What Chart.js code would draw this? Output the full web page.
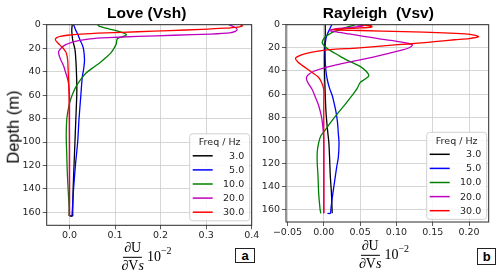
<!DOCTYPE html>
<html><head><meta charset="utf-8">
<script src="https://cdn.jsdelivr.net/npm/chart.js@4.4.1/dist/chart.umd.min.js"></script>
<style>
html,body{margin:0;padding:0;background:#fff;}
#wrap{position:relative;width:500px;height:276px;overflow:hidden;font-family:"Liberation Sans",Arial,sans-serif;}
canvas{position:absolute;top:0;}
#c1{left:0;} #c2{left:240px;}
.abs{position:absolute;white-space:pre;color:#000;line-height:1;transform:translate(-50%,-50%);}
.title{font-weight:bold;font-size:15.5px;}
.ylab{font-size:16.5px;transform:translate(-50%,-50%) rotate(-90deg);}
.xl{display:flex;align-items:center;font-family:"Liberation Serif","DejaVu Serif",serif;font-size:14px;}
.frac{display:inline-flex;flex-direction:column;align-items:center;margin-right:3px;}
.num{border-bottom:1px solid #000;padding:0 1px 1px 1px;line-height:1.05;}
.den{line-height:1.05;padding-top:1px;}
.pw{line-height:1;}
.pw sup{font-size:10px;vertical-align:7px;line-height:0;}
.box{position:absolute;border:1.5px solid #222;font-weight:bold;font-size:13px;display:flex;align-items:center;justify-content:center;box-sizing:border-box;background:#fff;}
</style></head>
<body><div id="wrap">
<canvas id="c1" width="270" height="276"></canvas>
<canvas id="c2" width="260" height="276"></canvas>
<div class="abs title" style="left:146.7px;top:12.7px;">Love (Vsh)</div>
<div class="abs title" style="left:378.3px;top:12.7px;">Rayleigh  (Vsv)</div>
<div class="abs ylab" style="left:12.5px;top:126.7px;">Depth (m)</div>
<div class="abs xl" style="left:146.5px;top:257px;"><span class="frac"><span class="num">∂U</span><span class="den">∂V<i>s</i></span></span><span class="pw">10<sup>−2</sup></span></div>
<div class="abs xl" style="left:384px;top:255px;"><span class="frac"><span class="num">∂U</span><span class="den">∂V<i>s</i></span></span><span class="pw">10<sup>−2</sup></span></div>
<div class="box" style="left:235px;top:247.7px;width:20px;height:15.5px;">a</div>
<div class="box" style="left:477.3px;top:248.3px;width:19px;height:16.7px;">b</div>
</div>
<script>
// ---------- data ----------
const freqLabels = ['3.0', '5.0', '10.0', '20.0', '30.0'];
const freqColors = ['#000000', '#0000ff', '#008000', '#bf00bf', '#ff0000'];

const depthTicks = [0, 20, 40, 60, 80, 100, 120, 140, 160];
const loveXTicks = [0.0, 0.1, 0.2, 0.3, 0.4];
const loveXLabels = ['0.0', '0.1', '0.2', '0.3', '0.4'];
const rayXTicks = [-0.05, 0.0, 0.05, 0.10, 0.15, 0.20];
const rayXLabels = ['\u22120.05', '0.00', '0.05', '0.10', '0.15', '0.20'];

// Love (Vsh)
const love3Depth = [0, 5, 13, 21, 30, 38, 50, 60, 80, 100, 120, 140, 160, 163, 163];
const love3Val   = [0.006, 0.005, 0.007, 0.012, 0.014, 0.015, 0.016, 0.016, 0.014, 0.012, 0.010, 0.008, 0.007, 0.007, 0.0];
const love5Depth = [0, 4, 8, 13, 17, 21, 30, 38, 45, 60, 80, 100, 120, 140, 160, 163, 163];
const love5Val   = [0.009, 0.013, 0.018, 0.023, 0.028, 0.031, 0.033, 0.031, 0.028, 0.025, 0.021, 0.018, 0.013, 0.009, 0.006, 0.005, 0.002];
const love10Depth = [0, 1.5, 3, 4.5, 6, 7.5, 8.5, 10, 11.5, 13, 16, 20, 24, 28, 32, 36, 41, 47, 53, 60, 67, 75, 81, 90, 98, 110, 124, 140, 155, 163];
const love10Val   = [0.062, 0.066, 0.08, 0.096, 0.11, 0.121, 0.125, 0.118, 0.107, 0.104, 0.103, 0.098, 0.091, 0.08, 0.068, 0.054, 0.037, 0.024, 0.014, 0.006, 0.0, -0.004, -0.006, -0.007, -0.007, -0.006, -0.005, -0.003, -0.001, -0.001];
const love20Depth = [0, 2, 4, 5.5, 7, 8, 9, 10, 11, 12, 13.5, 15, 17, 19, 23, 27, 31, 35, 40, 45, 50, 60, 100, 163];
const love20Val   = [0.35, 0.362, 0.368, 0.365, 0.352, 0.31, 0.23, 0.15, 0.085, 0.045, 0.02, 0.005, -0.008, -0.016, -0.024, -0.022, -0.018, -0.013, -0.009, -0.005, -0.002, 0.0, 0.0, 0.0];
const love30Depth = [0, 1, 2, 3, 4, 5, 6, 7, 8, 9, 10, 11, 12.8, 15, 18.5, 21, 24, 30, 38, 60, 100, 163];
const love30Val   = [0.375, 0.38, 0.37, 0.34, 0.29, 0.22, 0.15, 0.08, 0.025, -0.005, -0.02, -0.028, -0.031, -0.027, -0.018, -0.012, -0.007, -0.004, -0.003, -0.001, 0.0, 0.0];

// Rayleigh (Vsv)
const ray3Depth = [0, 10, 20, 40, 60, 75, 90, 102, 115, 131, 145, 161, 163];
const ray3Val   = [0.002, 0.002, 0.001, 0.001, 0.002, 0.003, 0.005, 0.007, 0.008, 0.009, 0.0105, 0.0115, 0.0115];
const ray5Depth = [0, 4, 8, 12, 18, 30, 40, 48, 55, 62, 70, 76, 85, 94, 102, 115, 122, 135, 148, 158, 163, 163];
const ray5Val   = [0.011, 0.008, 0.005, 0.003, 0.002, 0.002, 0.003, 0.005, 0.008, 0.012, 0.015, 0.017, 0.019, 0.020, 0.021, 0.020, 0.018, 0.015, 0.012, 0.010, 0.009, 0.005];
const ray10Depth = [0, 2, 4, 6, 8, 10, 13, 16, 19, 22, 26, 30, 33, 36, 40, 44, 47, 50, 55, 62, 70, 76, 84, 91, 96, 102, 110, 120, 130, 146, 160, 163];
const ray10Val   = [0.044, 0.032, 0.024, 0.014, 0.008, 0.003, -0.001, -0.002, 0.002, 0.008, 0.019, 0.03, 0.04, 0.05, 0.058, 0.062, 0.057, 0.05, 0.046, 0.038, 0.028, 0.02, 0.01, 0.002, -0.004, -0.007, -0.009, -0.009, -0.008, -0.007, -0.005, -0.004];
const ray20Depth = [0, 1, 2, 3, 4, 5, 6, 8, 10, 12, 14, 16, 17.3, 19, 21, 23, 25.5, 28, 31, 34, 37, 40, 43, 46, 50, 56, 62, 70, 80, 90, 100, 163];
const ray20Val   = [0.045, 0.055, 0.045, 0.025, 0.012, 0.008, 0.015, 0.035, 0.055, 0.075, 0.097, 0.115, 0.122, 0.12, 0.113, 0.1, 0.085, 0.068, 0.045, 0.022, 0.002, -0.013, -0.021, -0.024, -0.022, -0.016, -0.012, -0.007, -0.003, -0.001, 0.0, 0.0];
const ray30Depth = [0, 1, 2, 3, 4.3, 5, 6, 7, 8, 9, 10.3, 12, 13, 14.4, 16, 17.3, 19, 20.2, 21.6, 23, 25, 27, 29, 32, 36, 40, 45, 50, 56, 70, 100, 163];
const ray30Val   = [0.05, 0.066, 0.066, 0.045, 0.013, 0.05, 0.11, 0.165, 0.195, 0.207, 0.213, 0.2, 0.18, 0.156, 0.13, 0.102, 0.07, 0.045, 0.008, -0.01, -0.025, -0.034, -0.039, -0.036, -0.028, -0.019, -0.008, -0.003, 0.0, 0.0, 0.0, 0.0];

// ---------- helpers ----------
function pts(depth, vals) { return depth.map((d, i) => ({ x: vals[i], y: d })); }
function mkDatasets(list) {
  return list.map((p, i) => ({
    label: freqLabels[i],
    data: pts(p[0], p[1]),
    borderColor: freqColors[i],
    backgroundColor: freqColors[i],
    borderWidth: 1.3,
    pointRadius: 0,
    showLine: true,
    tension: 0.25,
    fill: false,
    order: list.length - 1 - i
  }));
}

const framePlugin = {
  id: 'frameLegend',
  afterDraw(chart, args, opts) {
    const ctx = chart.ctx, a = chart.chartArea;
    ctx.save();
    ctx.strokeStyle = '#2a2a2a';
    ctx.lineWidth = 1;
    ctx.strokeRect(a.left, a.top, a.right - a.left, a.bottom - a.top);
    // legend
    const w = 60, h = 87;
    const x0 = a.right - opts.right - w, y0 = a.bottom - opts.bottom - h;
    const r = 3;
    ctx.beginPath();
    ctx.moveTo(x0 + r, y0);
    ctx.arcTo(x0 + w, y0, x0 + w, y0 + h, r);
    ctx.arcTo(x0 + w, y0 + h, x0, y0 + h, r);
    ctx.arcTo(x0, y0 + h, x0, y0, r);
    ctx.arcTo(x0, y0, x0 + w, y0, r);
    ctx.closePath();
    ctx.fillStyle = 'rgba(255,255,255,0.85)';
    ctx.fill();
    ctx.strokeStyle = '#d0d0d0';
    ctx.stroke();
    ctx.font = '9.5px "DejaVu Sans"';
    ctx.fillStyle = '#262626';
    ctx.textBaseline = 'middle';
    ctx.textAlign = 'center';
    ctx.fillText('Freq / Hz', x0 + w / 2, y0 + 9);
    ctx.textAlign = 'right';
    chart.data.datasets.forEach((ds, i) => {
      const yy = y0 + 22 + i * 14.1;
      ctx.strokeStyle = ds.borderColor;
      ctx.lineWidth = 1.5;
      ctx.beginPath();
      ctx.moveTo(x0 + 3, yy);
      ctx.lineTo(x0 + 23, yy);
      ctx.stroke();
      ctx.fillStyle = '#262626';
      ctx.fillText(ds.label, x0 + 54.5, yy + 0.5);
    });
    ctx.restore();
  }
};

function mkOptions(xmin, xmax, xTicks, xLabels, ymax, pad, leg) {
  const tickFont = { family: 'DejaVu Sans', size: 9.5 };
  return {
    responsive: false,
    animation: false,
    devicePixelRatio: 1,
    layout: { padding: pad },
    plugins: { legend: { display: false }, tooltip: { enabled: false }, frameLegend: leg },
    scales: {
      x: {
        type: 'linear', min: xmin, max: xmax,
        afterBuildTicks: s => { s.ticks = xTicks.map(v => ({ value: v })); },
        afterFit: s => { s.height = 20; },
        ticks: { font: tickFont, color: '#262626', padding: 1, autoSkip: false, maxRotation: 0,
                 callback: (v, i) => xLabels[i] },
        grid: { color: '#cccccc', lineWidth: 0.8, tickColor: '#333', tickLength: 4, drawTicks: true },
        border: { display: false }
      },
      y: {
        type: 'linear', min: 0, max: ymax, reverse: true,
        afterBuildTicks: s => { s.ticks = depthTicks.map(v => ({ value: v })); },
        afterFit: s => { s.width = 40; },
        ticks: { font: tickFont, color: '#262626', padding: 2, autoSkip: false,
                 callback: (v, i) => String(depthTicks[i]) },
        grid: { color: '#cccccc', lineWidth: 0.8, tickColor: '#333', tickLength: 4, drawTicks: true },
        border: { display: false }
      }
    }
  };
}

new Chart(document.getElementById('c1'), {
  type: 'scatter',
  data: { datasets: mkDatasets([[love3Depth, love3Val], [love5Depth, love5Val], [love10Depth, love10Val], [love20Depth, love20Val], [love30Depth, love30Val]]) },
  options: mkOptions(-0.05, 0.4, loveXTicks, loveXLabels, 171,
    { left: 6.7, right: 18.3, top: 24.7, bottom: 30.7 }, { right: 2, bottom: 4.5 }),
  plugins: [framePlugin]
});

new Chart(document.getElementById('c2'), {
  type: 'scatter',
  data: { datasets: mkDatasets([[ray3Depth, ray3Val], [ray5Depth, ray5Val], [ray10Depth, ray10Val], [ray20Depth, ray20Val], [ray30Depth, ray30Val]]) },
  options: mkOptions(-0.052, 0.227, rayXTicks, rayXLabels, 170.5,
    { left: 6, right: 11.3, top: 24.7, bottom: 34 }, { right: 2, bottom: 2.7 }),
  plugins: [framePlugin]
});
</script>
</body></html>
